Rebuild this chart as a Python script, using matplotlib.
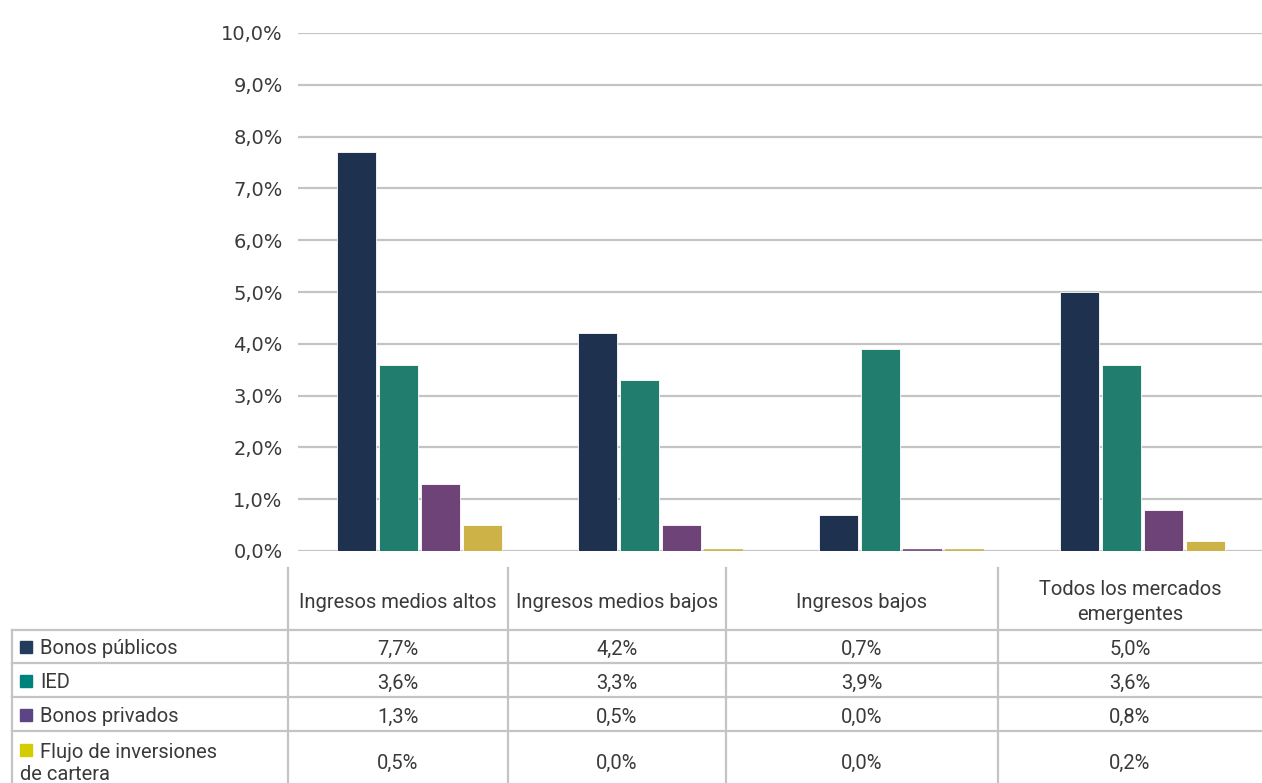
import numpy as np
import matplotlib.pyplot as plt
from matplotlib.patches import Rectangle

categories = ['Ingresos medios altos', 'Ingresos medios bajos', 'Ingresos bajos',
              'Todos los mercados\nemergentes']
series = ['Bonos públicos', 'IED', 'Bonos privados', 'Flujo de inversiones de cartera']
bonos_publicos = [7.7, 4.2, 0.7, 5.0]
ied = [3.6, 3.3, 3.9, 3.6]
bonos_privados = [1.3, 0.5, 0.0, 0.8]
flujo_cartera = [0.5, 0.0, 0.0, 0.2]
yticks = [0, 1, 2, 3, 4, 5, 6, 7, 8, 9, 10]

bar_colors = ['#1e3250', '#217e6f', '#6e4378', '#cdb347']
key_colors = ['#233b5c', '#00827c', '#5c4585', '#d2cc00']
text_color = '#3a3a3a'
grid_color = '#c4c4c4'

W, H = 1262, 783
fig = plt.figure(figsize=(W / 100, H / 100), dpi=100)
plt.rcParams['font.family'] = ['Roboto', 'DejaVu Sans']


def fx(x):
    return x / W


def fy(y):
    return 1 - y / H


# bar chart
ax = fig.add_axes([fx(298), fy(551), fx(1262) - fx(298), fy(33) - fy(551)])
x = np.arange(len(categories))
width = 0.162
step = 0.174
data = [bonos_publicos, ied, bonos_privados, flujo_cartera]
for i, (vals, c) in enumerate(zip(data, bar_colors)):
    ax.bar(x + (i - 1.5) * step + 0.005, vals, width, color=c, edgecolor='white',
           linewidth=0.6, zorder=3)
    # zero values still show as a thin line in the original
    zero = [v == 0 for v in vals]
    if any(zero):
        ax.bar((x + (i - 1.5) * step + 0.005)[zero], [0.03] * sum(zero), width,
               color=c, alpha=0.8, linewidth=0, zorder=4)

ax.set_xlim(-0.5, len(categories) - 0.5)
ax.set_ylim(0, 10)
ax.set_yticks(yticks)
ax.set_yticklabels([f'{v:.1f}%'.replace('.', ',') for v in yticks],
                   fontsize=14, color=text_color, family='DejaVu Sans')
ax.tick_params(axis='y', length=0, pad=11)
ax.set_xticks([])
ax.grid(axis='y', color=grid_color, linewidth=1.6, zorder=0)
for s in ax.spines.values():
    s.set_visible(False)

# data table
col_x = [12, 288, 508, 726, 998, 1262]
row_y = [568, 630, 663, 697, 731, 783]
line_kw = dict(color=grid_color, linewidth=1.6, transform=fig.transFigure)

for y in row_y[1:-1]:
    fig.add_artist(plt.Line2D([fx(12), fx(1262)], [fy(y), fy(y)], **line_kw))
fig.add_artist(plt.Line2D([fx(12), fx(12)], [fy(630), fy(783)], **line_kw))
for cx in col_x[1:-1]:
    fig.add_artist(plt.Line2D([fx(cx), fx(cx)], [fy(568), fy(783)], **line_kw))

fs = 14.5
for j, cat in enumerate(categories):
    cx = (col_x[j + 1] + col_x[j + 2]) / 2
    fig.text(fx(cx), fy(602), cat, ha='center', va='center', fontsize=fs,
             color=text_color, linespacing=1.35)

row_centers = [649, 683, 717, 763]
for i, (name, vals) in enumerate(zip(series, data)):
    yc = row_centers[i]
    ky = yc - 2 if i < 3 else 750
    fig.add_artist(Rectangle((fx(20), fy(ky + 6)), fx(12), 12 / H,
                             color=key_colors[i], transform=fig.transFigure))
    if i < 3:
        fig.text(fx(40), fy(yc), name, ha='left', va='center', fontsize=fs,
                 color=text_color)
    else:
        fig.text(fx(40), fy(752), 'Flujo de inversiones', ha='left', va='center',
                 fontsize=fs, color=text_color)
        fig.text(fx(20), fy(775), 'de cartera', ha='left', va='center',
                 fontsize=fs, color=text_color)
    for j, v in enumerate(vals):
        cx = (col_x[j + 1] + col_x[j + 2]) / 2
        fig.text(fx(cx), fy(yc), f'{v:.1f}%'.replace('.', ','), ha='center',
                 va='center', fontsize=fs, color=text_color)

fig.savefig('out.png', dpi=100)
